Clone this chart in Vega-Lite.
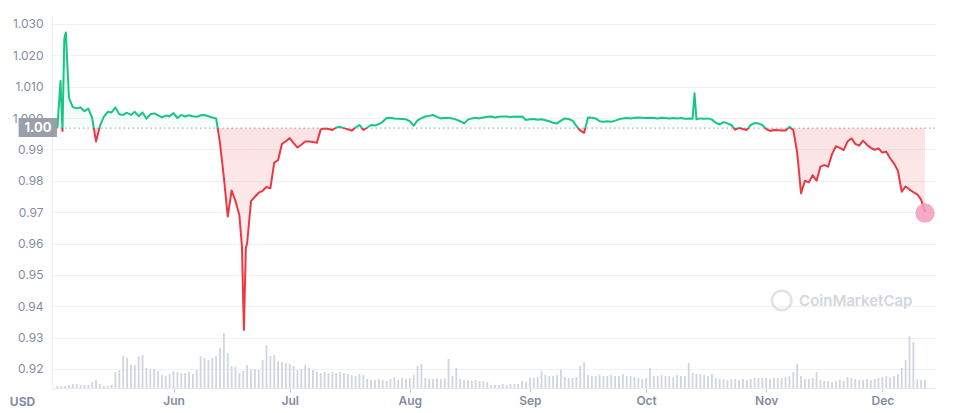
{
  "$schema": "https://vega.github.io/schema/vega-lite/v6.json",
  "width": 883,
  "height": 371,
  "autosize": {"type": "none"},
  "padding": {"left": 52, "top": 17, "right": 25, "bottom": 25},
  "background": "white",
  "config": {"view": {"stroke": null}, "font": "Inter"},
  "data": {"values": [
    {"t":"2022-05-02","p":0.9968,"v":4},
    {"t":"2022-05-02T20:00:00Z","p":1.0119},
    {"t":"2022-05-03","p":1.0060,"v":4},
    {"t":"2022-05-03T08:00:00Z","p":0.9959},
    {"t":"2022-05-03T19:00:00Z","p":1.0250},
    {"t":"2022-05-04","p":1.0265,"v":4},
    {"t":"2022-05-04T05:00:00Z","p":1.0273},
    {"t":"2022-05-05","p":1.0065,"v":6},
    {"t":"2022-05-06","p":1.0035,"v":8},
    {"t":"2022-05-07","p":1.0031,"v":8},
    {"t":"2022-05-08","p":1.0034,"v":6},
    {"t":"2022-05-09","p":1.0022,"v":6},
    {"t":"2022-05-10","p":1.0030,"v":6},
    {"t":"2022-05-11","p":1.0000,"v":12},
    {"t":"2022-05-12","p":0.9925,"v":16},
    {"t":"2022-05-13","p":0.9975,"v":8},
    {"t":"2022-05-14","p":1.0004,"v":4},
    {"t":"2022-05-15","p":1.0020,"v":4},
    {"t":"2022-05-16","p":1.0018,"v":6},
    {"t":"2022-05-17","p":1.0034,"v":32},
    {"t":"2022-05-18","p":1.0012,"v":36},
    {"t":"2022-05-19","p":1.0010,"v":64},
    {"t":"2022-05-20","p":1.0017,"v":60},
    {"t":"2022-05-21","p":1.0010,"v":46},
    {"t":"2022-05-22","p":1.0020,"v":46},
    {"t":"2022-05-23","p":1.0006,"v":64},
    {"t":"2022-05-24","p":1.0018,"v":66},
    {"t":"2022-05-25","p":0.9998,"v":40},
    {"t":"2022-05-26","p":1.0012,"v":38},
    {"t":"2022-05-27","p":1.0015,"v":38},
    {"t":"2022-05-28","p":1.0009,"v":34},
    {"t":"2022-05-29","p":1.0002,"v":26},
    {"t":"2022-05-30","p":1.0008,"v":24},
    {"t":"2022-05-31","p":1.0006,"v":28},
    {"t":"2022-06-01","p":1.0016,"v":34},
    {"t":"2022-06-02","p":1.0000,"v":32},
    {"t":"2022-06-03","p":1.0010,"v":30},
    {"t":"2022-06-04","p":1.0005,"v":30},
    {"t":"2022-06-05","p":1.0009,"v":32},
    {"t":"2022-06-06","p":1.0006,"v":28},
    {"t":"2022-06-07","p":1.0004,"v":36},
    {"t":"2022-06-08","p":1.0009,"v":64},
    {"t":"2022-06-09","p":1.0010,"v":60},
    {"t":"2022-06-10","p":1.0006,"v":56},
    {"t":"2022-06-11","p":1.0002,"v":60},
    {"t":"2022-06-12","p":0.9999,"v":64},
    {"t":"2022-06-13","p":0.9920,"v":80},
    {"t":"2022-06-14","p":0.9810,"v":110},
    {"t":"2022-06-15","p":0.9686,"v":70},
    {"t":"2022-06-16","p":0.9769,"v":44},
    {"t":"2022-06-17","p":0.9735,"v":42},
    {"t":"2022-06-18","p":0.9690,"v":30},
    {"t":"2022-06-18T16:00:00Z","p":0.9590},
    {"t":"2022-06-19","p":0.9410,"v":34},
    {"t":"2022-06-19T04:00:00Z","p":0.9324},
    {"t":"2022-06-19T16:00:00Z","p":0.9585},
    {"t":"2022-06-20","p":0.9600,"v":46},
    {"t":"2022-06-21","p":0.9735,"v":36},
    {"t":"2022-06-22","p":0.9749,"v":38},
    {"t":"2022-06-23","p":0.9762,"v":36},
    {"t":"2022-06-24","p":0.9768,"v":56},
    {"t":"2022-06-25","p":0.9780,"v":86},
    {"t":"2022-06-26","p":0.9776,"v":64},
    {"t":"2022-06-27","p":0.9858,"v":66},
    {"t":"2022-06-28","p":0.9866,"v":54},
    {"t":"2022-06-29","p":0.9918,"v":52},
    {"t":"2022-06-30","p":0.9926,"v":50},
    {"t":"2022-07-01","p":0.9936,"v":48},
    {"t":"2022-07-02","p":0.9920,"v":44},
    {"t":"2022-07-03","p":0.9906,"v":36},
    {"t":"2022-07-04","p":0.9915,"v":38},
    {"t":"2022-07-05","p":0.9925,"v":46},
    {"t":"2022-07-06","p":0.9925,"v":40},
    {"t":"2022-07-07","p":0.9924,"v":36},
    {"t":"2022-07-08","p":0.9921,"v":32},
    {"t":"2022-07-09","p":0.9964,"v":30},
    {"t":"2022-07-10","p":0.9967,"v":32},
    {"t":"2022-07-11","p":0.9965,"v":30},
    {"t":"2022-07-12","p":0.9962,"v":32},
    {"t":"2022-07-13","p":0.9970,"v":30},
    {"t":"2022-07-14","p":0.9972,"v":32},
    {"t":"2022-07-15","p":0.9968,"v":30},
    {"t":"2022-07-16","p":0.9964,"v":28},
    {"t":"2022-07-17","p":0.9960,"v":26},
    {"t":"2022-07-18","p":0.9970,"v":24},
    {"t":"2022-07-19","p":0.9978,"v":28},
    {"t":"2022-07-20","p":0.9962,"v":26},
    {"t":"2022-07-21","p":0.9970,"v":18},
    {"t":"2022-07-22","p":0.9978,"v":16},
    {"t":"2022-07-23","p":0.9976,"v":16},
    {"t":"2022-07-24","p":0.9981,"v":18},
    {"t":"2022-07-25","p":0.9988,"v":16},
    {"t":"2022-07-26","p":1.0000,"v":14},
    {"t":"2022-07-27","p":1.0001,"v":18},
    {"t":"2022-07-28","p":0.9999,"v":22},
    {"t":"2022-07-29","p":0.9998,"v":16},
    {"t":"2022-07-30","p":0.9997,"v":20},
    {"t":"2022-07-31","p":0.9996,"v":18},
    {"t":"2022-08-01","p":0.9990,"v":20},
    {"t":"2022-08-02","p":0.9976,"v":26},
    {"t":"2022-08-03","p":0.9993,"v":44},
    {"t":"2022-08-04","p":1.0000,"v":48},
    {"t":"2022-08-05","p":1.0005,"v":20},
    {"t":"2022-08-06","p":1.0007,"v":18},
    {"t":"2022-08-07","p":1.0010,"v":18},
    {"t":"2022-08-08","p":1.0004,"v":20},
    {"t":"2022-08-09","p":0.9999,"v":18},
    {"t":"2022-08-10","p":1.0001,"v":20},
    {"t":"2022-08-11","p":1.0000,"v":58},
    {"t":"2022-08-12","p":0.9999,"v":24},
    {"t":"2022-08-13","p":0.9995,"v":40},
    {"t":"2022-08-14","p":0.9990,"v":18},
    {"t":"2022-08-15","p":0.9983,"v":16},
    {"t":"2022-08-16","p":0.9995,"v":16},
    {"t":"2022-08-17","p":0.9999,"v":14},
    {"t":"2022-08-18","p":1.0001,"v":16},
    {"t":"2022-08-19","p":0.9999,"v":14},
    {"t":"2022-08-20","p":1.0002,"v":14},
    {"t":"2022-08-21","p":1.0004,"v":12},
    {"t":"2022-08-22","p":1.0005,"v":6},
    {"t":"2022-08-23","p":1.0002,"v":6},
    {"t":"2022-08-24","p":1.0004,"v":6},
    {"t":"2022-08-25","p":1.0005,"v":8},
    {"t":"2022-08-26","p":1.0005,"v":6},
    {"t":"2022-08-27","p":1.0003,"v":8},
    {"t":"2022-08-28","p":1.0005,"v":8},
    {"t":"2022-08-29","p":1.0004,"v":8},
    {"t":"2022-08-30","p":1.0005,"v":14},
    {"t":"2022-08-31","p":0.9994,"v":12},
    {"t":"2022-09-01","p":0.9996,"v":20},
    {"t":"2022-09-02","p":0.9997,"v":20},
    {"t":"2022-09-03","p":0.9995,"v":22},
    {"t":"2022-09-04","p":0.9996,"v":34},
    {"t":"2022-09-05","p":0.9993,"v":26},
    {"t":"2022-09-06","p":0.9990,"v":24},
    {"t":"2022-09-07","p":0.9985,"v":24},
    {"t":"2022-09-08","p":0.9983,"v":26},
    {"t":"2022-09-09","p":0.9992,"v":36},
    {"t":"2022-09-10","p":0.9999,"v":22},
    {"t":"2022-09-11","p":0.9997,"v":20},
    {"t":"2022-09-12","p":0.9992,"v":20},
    {"t":"2022-09-13","p":0.9975,"v":22},
    {"t":"2022-09-14","p":0.9960,"v":44},
    {"t":"2022-09-15","p":0.9953,"v":52},
    {"t":"2022-09-16","p":1.0002,"v":26},
    {"t":"2022-09-17","p":1.0001,"v":24},
    {"t":"2022-09-18","p":0.9999,"v":24},
    {"t":"2022-09-19","p":0.9990,"v":26},
    {"t":"2022-09-20","p":0.9988,"v":24},
    {"t":"2022-09-21","p":0.9990,"v":24},
    {"t":"2022-09-22","p":0.9988,"v":26},
    {"t":"2022-09-23","p":0.9992,"v":24},
    {"t":"2022-09-24","p":0.9996,"v":24},
    {"t":"2022-09-25","p":0.9999,"v":28},
    {"t":"2022-09-26","p":1.0000,"v":24},
    {"t":"2022-09-27","p":0.9999,"v":24},
    {"t":"2022-09-28","p":1.0001,"v":22},
    {"t":"2022-09-29","p":1.0002,"v":20},
    {"t":"2022-09-30","p":1.0001,"v":18},
    {"t":"2022-10-01","p":1.0000,"v":20},
    {"t":"2022-10-02","p":1.0001,"v":40},
    {"t":"2022-10-03","p":1.0000,"v":24},
    {"t":"2022-10-04","p":0.9999,"v":24},
    {"t":"2022-10-05","p":1.0001,"v":26},
    {"t":"2022-10-06","p":1.0000,"v":24},
    {"t":"2022-10-07","p":0.9999,"v":24},
    {"t":"2022-10-08","p":1.0000,"v":22},
    {"t":"2022-10-09","p":0.9999,"v":26},
    {"t":"2022-10-10","p":1.0000,"v":24},
    {"t":"2022-10-11","p":0.9998,"v":24},
    {"t":"2022-10-12","p":0.9999,"v":50},
    {"t":"2022-10-13","p":0.9998,"v":30},
    {"t":"2022-10-13T12:00:00Z","p":1.0079},
    {"t":"2022-10-14","p":0.9996,"v":28},
    {"t":"2022-10-15","p":0.9999,"v":28},
    {"t":"2022-10-16","p":0.9998,"v":26},
    {"t":"2022-10-17","p":0.9999,"v":24},
    {"t":"2022-10-18","p":0.9995,"v":28},
    {"t":"2022-10-19","p":0.9985,"v":20},
    {"t":"2022-10-20","p":0.9980,"v":18},
    {"t":"2022-10-21","p":0.9987,"v":18},
    {"t":"2022-10-22","p":0.9983,"v":16},
    {"t":"2022-10-23","p":0.9978,"v":18},
    {"t":"2022-10-24","p":0.9963,"v":18},
    {"t":"2022-10-25","p":0.9969,"v":16},
    {"t":"2022-10-26","p":0.9965,"v":18},
    {"t":"2022-10-27","p":0.9962,"v":16},
    {"t":"2022-10-28","p":0.9978,"v":18},
    {"t":"2022-10-29","p":0.9984,"v":20},
    {"t":"2022-10-30","p":0.9983,"v":20},
    {"t":"2022-10-31","p":0.9978,"v":20},
    {"t":"2022-11-01","p":0.9965,"v":20},
    {"t":"2022-11-02","p":0.9959,"v":18},
    {"t":"2022-11-03","p":0.9962,"v":20},
    {"t":"2022-11-04","p":0.9961,"v":20},
    {"t":"2022-11-05","p":0.9960,"v":20},
    {"t":"2022-11-06","p":0.9960,"v":22},
    {"t":"2022-11-07","p":0.9972,"v":24},
    {"t":"2022-11-08","p":0.9962,"v":32},
    {"t":"2022-11-09","p":0.9890,"v":48},
    {"t":"2022-11-10","p":0.9760,"v":24},
    {"t":"2022-11-11","p":0.9800,"v":18},
    {"t":"2022-11-12","p":0.9795,"v":18},
    {"t":"2022-11-13","p":0.9818,"v":20},
    {"t":"2022-11-14","p":0.9800,"v":32},
    {"t":"2022-11-15","p":0.9845,"v":16},
    {"t":"2022-11-16","p":0.9850,"v":14},
    {"t":"2022-11-17","p":0.9845,"v":14},
    {"t":"2022-11-18","p":0.9885,"v":12},
    {"t":"2022-11-19","p":0.9910,"v":14},
    {"t":"2022-11-20","p":0.9905,"v":16},
    {"t":"2022-11-21","p":0.9898,"v":14},
    {"t":"2022-11-22","p":0.9925,"v":22},
    {"t":"2022-11-23","p":0.9935,"v":20},
    {"t":"2022-11-24","p":0.9918,"v":18},
    {"t":"2022-11-25","p":0.9912,"v":16},
    {"t":"2022-11-26","p":0.9928,"v":16},
    {"t":"2022-11-27","p":0.9915,"v":18},
    {"t":"2022-11-28","p":0.9905,"v":16},
    {"t":"2022-11-29","p":0.9899,"v":18},
    {"t":"2022-11-30","p":0.9903,"v":20},
    {"t":"2022-12-01","p":0.9890,"v":22},
    {"t":"2022-12-02","p":0.9893,"v":24},
    {"t":"2022-12-03","p":0.9872,"v":22},
    {"t":"2022-12-04","p":0.9855,"v":24},
    {"t":"2022-12-05","p":0.9832,"v":28},
    {"t":"2022-12-06","p":0.9765,"v":40},
    {"t":"2022-12-07","p":0.9782,"v":56},
    {"t":"2022-12-08","p":0.9772,"v":104},
    {"t":"2022-12-09","p":0.9764,"v":92},
    {"t":"2022-12-10","p":0.9757,"v":18},
    {"t":"2022-12-11","p":0.9740,"v":16},
    {"t":"2022-12-12","p":0.9701,"v":16}
  ]},
  "layer": [
    {
      "mark": {"type": "bar", "size": 1.8, "color": "#d0d5de"},
      "encoding": {
        "x": {"field": "t", "type": "temporal", "scale": {"type": "utc", "domain": [1651442400000, 1670914800000], "nice": false}},
        "y": {"field": "v", "type": "quantitative", "scale": {"domain": [0, 742], "nice": false}, "axis": null}
      }
    },
    {
      "mark": {
        "type": "area",
        "fill": {"gradient": "linear", "x1": 0, "y1": 0, "x2": 0, "y2": 1, "stops": [
          {"offset": 0, "color": "rgba(22,199,132,0.14)"},
          {"offset": 0.3214, "color": "rgba(22,199,132,0.03)"},
          {"offset": 0.3214, "color": "rgba(234,57,67,0.15)"},
          {"offset": 1, "color": "rgba(234,57,67,0.03)"}
        ]}
      },
      "encoding": {
        "x": {"field": "t", "type": "temporal"},
        "y": {"field": "p", "type": "quantitative", "scale": {"domain": [0.91393, 1.03223], "nice": false, "zero": false}, "axis": null},
        "y2": {"datum": 0.9968}
      }
    },
    {
      "data": {"values": [{}]},
      "mark": {"type": "rule", "color": "#9aa1ad", "strokeDash": [1.5, 3], "strokeWidth": 1},
      "encoding": {"y": {"datum": 0.9968, "type": "quantitative", "scale": {"domain": [0.91393, 1.03223], "nice": false, "zero": false}, "axis": null}}
    },
    {
      "mark": {
        "type": "line", "strokeWidth": 2, "strokeJoin": "round",
        "stroke": {"gradient": "linear", "x1": 0, "y1": 0, "x2": 0, "y2": 1, "stops": [
          {"offset": 0, "color": "#16c784"},
          {"offset": 0.3214, "color": "#16c784"},
          {"offset": 0.3214, "color": "#ea3943"},
          {"offset": 1, "color": "#ea3943"}
        ]}
      },
      "encoding": {
        "x": {
          "field": "t", "type": "temporal",
          "axis": {
            "labelExpr": "utcFormat(datum.value, '%b')",
            "values": [1654041600000, 1656633600000, 1659312000000, 1661990400000, 1664582400000, 1667260800000, 1669852800000],
            "title": null, "grid": false,
            "labelFont": "Inter", "labelFontSize": 12, "labelFontWeight": 600, "labelColor": "#858ca2",
            "labelPadding": 3, "tickSize": 4, "tickColor": "#c3c9d3", "domainColor": "#e6e9ee"
          }
        },
        "y": {
          "field": "p", "type": "quantitative",
          "scale": {"domain": [0.91393, 1.03223], "nice": false, "zero": false},
          "axis": {
            "values": [0.92, 0.93, 0.94, 0.95, 0.96, 0.97, 0.98, 0.99, 1.0, 1.01, 1.02, 1.03],
            "labelExpr": "datum.value >= 0.9995 ? format(datum.value, '.3f') : format(datum.value, '.2f')",
            "grid": true, "gridColor": "#eff2f5", "ticks": false,
            "domain": true, "domainColor": "#eceff3", "zindex": 0,
            "labelFont": "Inter", "labelFontSize": 12, "labelColor": "#858ca2", "labelPadding": 9,
            "title": "USD", "titleAngle": 0, "titleX": -30, "titleY": 384,
            "titleAlign": "center", "titleBaseline": "middle",
            "titleFont": "Inter", "titleFontSize": 12, "titleFontWeight": 700, "titleColor": "#858ca2"
          }
        }
      }
    },
    {
      "data": {"values": [{"t": "2022-12-12", "p": 0.9697}]},
      "mark": {"type": "circle", "size": 380, "color": "#f49bbb", "opacity": 0.85},
      "encoding": {
        "x": {"field": "t", "type": "temporal"},
        "y": {"field": "p", "type": "quantitative", "scale": {"domain": [0.91393, 1.03223], "nice": false, "zero": false}, "axis": null}
      }
    },
    {
      "data": {"values": [{}]},
      "mark": {"type": "rect", "color": "#9a9fa9"},
      "encoding": {
        "x": {"datum": 1650585600000, "type": "temporal"},
        "x2": {"datum": 1651442400000},
        "y": {"datum": 1.0000, "type": "quantitative", "scale": {"domain": [0.91393, 1.03223], "nice": false, "zero": false}, "axis": null},
        "y2": {"datum": 0.9940}
      }
    },
    {
      "data": {"values": [{"label": "1.00"}]},
      "mark": {"type": "text", "color": "white", "font": "Inter", "fontSize": 13, "fontWeight": 700, "align": "center", "baseline": "middle"},
      "encoding": {
        "x": {"datum": 1651017600000, "type": "temporal"},
        "y": {"datum": 0.9968, "type": "quantitative", "scale": {"domain": [0.91393, 1.03223], "nice": false, "zero": false}, "axis": null},
        "text": {"field": "label"}
      }
    },
    {
      "data": {"values": [{"label": "CoinMarketCap"}]},
      "mark": {"type": "text", "color": "#d3d7de", "font": "Inter", "fontSize": 15, "fontWeight": 600, "align": "left", "baseline": "middle"},
      "encoding": {
        "x": {"datum": 1667995200000, "type": "temporal"},
        "y": {"datum": 0.9418, "type": "quantitative", "scale": {"domain": [0.91393, 1.03223], "nice": false, "zero": false}, "axis": null},
        "text": {"field": "label"}
      }
    },
    {
      "data": {"values": [{}]},
      "mark": {"type": "point", "shape": "circle", "size": 380, "filled": false, "stroke": "#d3d7de", "strokeWidth": 2.5},
      "encoding": {
        "x": {"datum": 1667606100000, "type": "temporal"},
        "y": {"datum": 0.9418, "type": "quantitative", "scale": {"domain": [0.91393, 1.03223], "nice": false, "zero": false}, "axis": null}
      }
    }
  ],
  "resolve": {"scale": {"y": "independent"}}
}
